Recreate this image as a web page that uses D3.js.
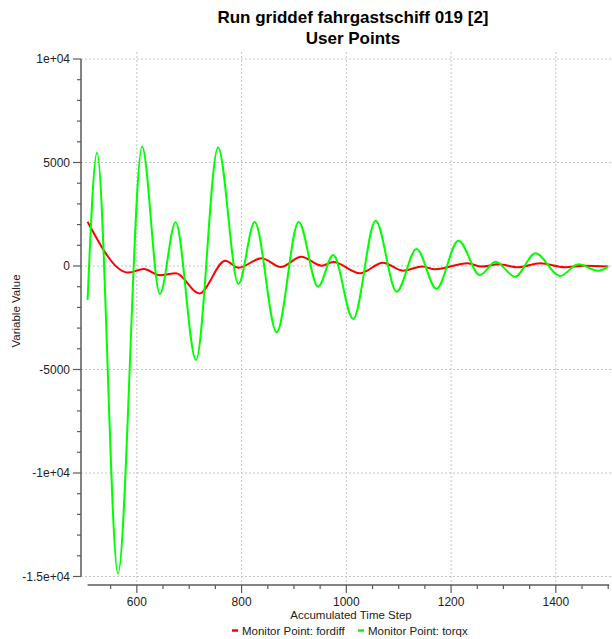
<!DOCTYPE html>
<html>
<head>
<meta charset="utf-8">
<script src="https://cdn.jsdelivr.net/npm/d3@7/dist/d3.min.js"></script>
<style>
  html, body { margin: 0; padding: 0; background: #fff; }
  svg { display: block; font-family: "Liberation Sans", Arial, sans-serif; }
</style>
</head>
<body>
<svg id="chart" width="612" height="639"></svg>
<script>
// Monitor point histories (time step, value), sampled at turning points
const fordiffSteps = [506, 584, 613, 644, 675, 719, 769, 794, 838, 875, 914, 953, 975, 1026, 1070, 1108, 1145, 1169, 1232, 1258, 1290, 1328, 1370, 1417, 1455, 1500];
const fordiffValues = [2140, -320, -150, -450, -355, -1330, 256, -80, 370, -50, 450, 15, 190, -354, 160, -225, -20, -160, 130, -30, 82, -63, 130, -63, 15, -30];

const torqxSteps = [506, 524, 564, 610, 644, 674, 713, 755, 794, 825, 867, 909, 946, 975, 1013, 1056, 1096, 1134, 1172, 1214, 1255, 1285, 1322, 1361, 1408, 1443, 1481, 1500];
const torqxValues = [-1640, 5470, -14850, 5760, -1350, 2110, -4540, 5730, -870, 2130, -3200, 2130, -1000, 530, -2560, 2190, -1240, 820, -1100, 1220, -435, 210, -520, 610, -480, 80, -230, -30];

const yTicks = [10000, 5000, 0, -5000, -10000, -15000];
const yTickLabels = ["1e+04", "5000", "0", "-5000", "-1e+04", "-1.5e+04"];
const xTicks = [600, 800, 1000, 1200, 1400];

const titleLines = ["Run griddef fahrgastschiff 019 [2]", "User Points"];
const seriesNames = ["Monitor Point: fordiff", "Monitor Point: torqx"];
const seriesColors = ["#ff0000", "#00ff00"];

const svg = d3.select("#chart");
const W = 612, H = 639;
svg.append("rect").attr("width", W).attr("height", H).attr("fill", "#fff");

const x = d3.scaleLinear().domain([506, 1500]).range([87.6, 608.2]);
const y = d3.scaleLinear().domain([-15000, 10000]).range([576.5, 59]);

const axisColor = "#5a5a5a";
const gridColor = "#c4c4c4";
const textColor = "#222";

// grid
const grid = svg.append("g");
grid.selectAll("line.h").data(yTicks).join("line")
  .attr("x1", 81).attr("x2", W)
  .attr("y1", d => y(d)).attr("y2", d => y(d))
  .attr("stroke", gridColor).attr("stroke-dasharray", "2,2").attr("stroke-width", 1);
grid.selectAll("line.v").data(xTicks).join("line")
  .attr("x1", d => x(d)).attr("x2", d => x(d))
  .attr("y1", 52).attr("y2", 585)
  .attr("stroke", gridColor).attr("stroke-dasharray", "2,2").attr("stroke-width", 1);

// y axis
const yMinor = d3.range(-15000, 10001, 1000);
const yAxisG = svg.append("g").attr("transform", "translate(81,0)");
yAxisG.append("line").attr("x1", 0).attr("x2", 0).attr("y1", y(10000)).attr("y2", y(-15000))
  .attr("stroke", axisColor).attr("stroke-width", 1.5);
yAxisG.selectAll("line.minor").data(yMinor).join("line")
  .attr("x1", d => yTicks.includes(d) ? -8 : -4).attr("x2", 0)
  .attr("y1", d => y(d)).attr("y2", d => y(d))
  .attr("stroke", axisColor).attr("stroke-width", 1.2);
yAxisG.selectAll("text").data(yTicks).join("text")
  .attr("x", -11).attr("y", d => y(d)).attr("dy", "0.35em")
  .attr("text-anchor", "end").attr("font-size", 12).attr("fill", textColor)
  .text((d, i) => yTickLabels[i]);

// x axis
const xMinor = d3.range(550, 1501, 50);
const xAxisG = svg.append("g").attr("transform", "translate(0,585)");
xAxisG.append("line").attr("x1", x(506)).attr("x2", x(1500) + 1).attr("y1", 0).attr("y2", 0)
  .attr("stroke", axisColor).attr("stroke-width", 1.5);
xAxisG.selectAll("line.tick").data(xMinor).join("line")
  .attr("x1", d => x(d)).attr("x2", d => x(d))
  .attr("y1", 0).attr("y2", d => xTicks.includes(d) ? 8 : 4)
  .attr("stroke", axisColor).attr("stroke-width", 1.2);
xAxisG.selectAll("text").data(xTicks).join("text")
  .attr("x", d => x(d)).attr("y", 21)
  .attr("text-anchor", "middle").attr("font-size", 12).attr("fill", textColor)
  .text(d => d);

// axis titles
svg.append("text").attr("x", 351).attr("y", 619).attr("text-anchor", "middle")
  .attr("font-size", 11.5).attr("fill", textColor).text("Accumulated Time Step");
svg.append("text").attr("transform", "translate(20,311) rotate(-90)").attr("text-anchor", "middle")
  .attr("font-size", 11.5).attr("fill", textColor).text("Variable Value");

// title
svg.selectAll("text.title").data(titleLines).join("text")
  .attr("class", "title")
  .attr("x", 353).attr("y", (d, i) => 23 + i * 21)
  .attr("text-anchor", "middle").attr("font-size", 17).attr("font-weight", "bold")
  .attr("fill", "#000").text(d => d);

// series
const line = d3.line().x(d => x(d[0])).y(d => y(d[1])).curve(d3.curveMonotoneX);
const redData = fordiffSteps.map((s, i) => [s, fordiffValues[i]]);
const greenData = torqxSteps.map((s, i) => [s, torqxValues[i]]);
svg.append("path").datum(redData).attr("d", line).attr("fill", "none")
  .attr("stroke", seriesColors[0]).attr("stroke-width", 2);
svg.append("path").datum(greenData).attr("d", line).attr("fill", "none")
  .attr("stroke", seriesColors[1]).attr("stroke-width", 2);

// legend
const legendX = [232, 358];
const lg = svg.append("g");
seriesNames.forEach((name, i) => {
  lg.append("line").attr("x1", legendX[i]).attr("x2", legendX[i] + 6)
    .attr("y1", 630.5).attr("y2", 630.5)
    .attr("stroke", seriesColors[i]).attr("stroke-width", 2.5);
  lg.append("text").attr("x", legendX[i] + 10).attr("y", 635)
    .attr("font-size", 11.5).attr("fill", textColor).text(name);
});
</script>
</body>
</html>
